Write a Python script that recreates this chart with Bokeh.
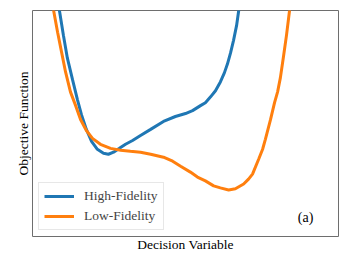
from bokeh.plotting import figure
from bokeh.models import Range1d, FixedTicker, Legend, LegendItem, Label
from bokeh.embed import file_html
from bokeh.resources import INLINE

# Decision variable (normalised 0..1) and objective values
hf_x = [0.075, 0.088, 0.101, 0.114, 0.131, 0.147, 0.160, 0.176, 0.193, 0.212,
        0.232, 0.248, 0.265, 0.284, 0.304, 0.327, 0.353, 0.386, 0.428, 0.467,
        0.500, 0.523, 0.549, 0.565, 0.582, 0.598, 0.614, 0.627, 0.637, 0.647,
        0.657, 0.667, 0.673, 0.680]
hf_y = [1.132, 1.000, 0.890, 0.789, 0.693, 0.605, 0.539, 0.474, 0.421, 0.386,
        0.368, 0.364, 0.373, 0.390, 0.408, 0.425, 0.447, 0.474, 0.509, 0.531,
        0.544, 0.557, 0.579, 0.592, 0.618, 0.645, 0.684, 0.724, 0.763, 0.811,
        0.868, 0.934, 0.991, 1.066]

lf_x = [0.056, 0.069, 0.082, 0.095, 0.108, 0.124, 0.141, 0.157, 0.176, 0.196,
        0.222, 0.255, 0.288, 0.320, 0.353, 0.386, 0.428, 0.458, 0.484, 0.516,
        0.539, 0.565, 0.592, 0.614, 0.641, 0.663, 0.690, 0.706, 0.719, 0.739,
        0.752, 0.761, 0.778, 0.791, 0.801, 0.810, 0.820, 0.830, 0.840, 0.846]
lf_y = [1.132, 1.000, 0.904, 0.816, 0.728, 0.640, 0.579, 0.518, 0.469, 0.434,
        0.408, 0.390, 0.382, 0.377, 0.373, 0.364, 0.351, 0.333, 0.311, 0.285,
        0.263, 0.246, 0.224, 0.215, 0.206, 0.211, 0.232, 0.254, 0.276, 0.342,
        0.386, 0.430, 0.518, 0.592, 0.640, 0.702, 0.794, 0.890, 1.000, 1.088]

series_labels = ["High-Fidelity", "Low-Fidelity"]
x_label = "Decision Variable"
y_label = "Objective Function"
panel_tag = "(a)"

FONT = "Liberation Serif"

p = figure(width=344, height=254, output_backend="svg", toolbar_location=None,
           x_range=Range1d(0, 1), y_range=Range1d(0, 1),
           min_border_left=32, min_border_right=6, min_border_top=10, min_border_bottom=16)

p.outline_line_color = "#6e6e6e"
p.outline_line_width = 1
p.grid.visible = False
p.background_fill_color = "white"
p.border_fill_color = "white"

for ax in (p.xaxis[0], p.yaxis[0]):
    ax.ticker = FixedTicker(ticks=[])
    ax.major_tick_out = 0
    ax.major_tick_in = 0
    ax.minor_tick_out = 0
    ax.minor_tick_in = 0
    ax.major_label_standoff = 0
    ax.axis_line_color = None
    ax.axis_label_text_font = FONT
    ax.axis_label_text_font_style = "normal"
    ax.axis_label_text_font_size = "13.5px"
    ax.axis_label_text_color = "black"

p.xaxis.axis_label = x_label
p.yaxis.axis_label = y_label
p.xaxis.axis_label_standoff = 0
p.yaxis.axis_label_standoff = 2

r1 = p.line(hf_x, hf_y, line_color="#1f77b4", line_width=3)
r2 = p.line(lf_x, lf_y, line_color="#ff7f0e", line_width=3)

legend = Legend(items=[LegendItem(label=series_labels[0], renderers=[r1]),
                       LegendItem(label=series_labels[1], renderers=[r2])],
                location="bottom_left")
legend.label_text_font = FONT
legend.label_text_font_size = "13.5px"
legend.glyph_width = 30
legend.glyph_height = 14
legend.label_height = 14
legend.label_standoff = 10
legend.spacing = 4
legend.padding = 5
legend.margin = 6
legend.border_line_color = "#d0d0d0"
legend.border_line_width = 1
legend.background_fill_alpha = 0.9
p.add_layout(legend)

tag = Label(x=0.918, y=0.083, text=panel_tag, text_align="right", text_baseline="middle",
            text_font=FONT, text_font_size="14px", text_color="black")
p.add_layout(tag)

open("out.html", "w").write(file_html(p, INLINE))
